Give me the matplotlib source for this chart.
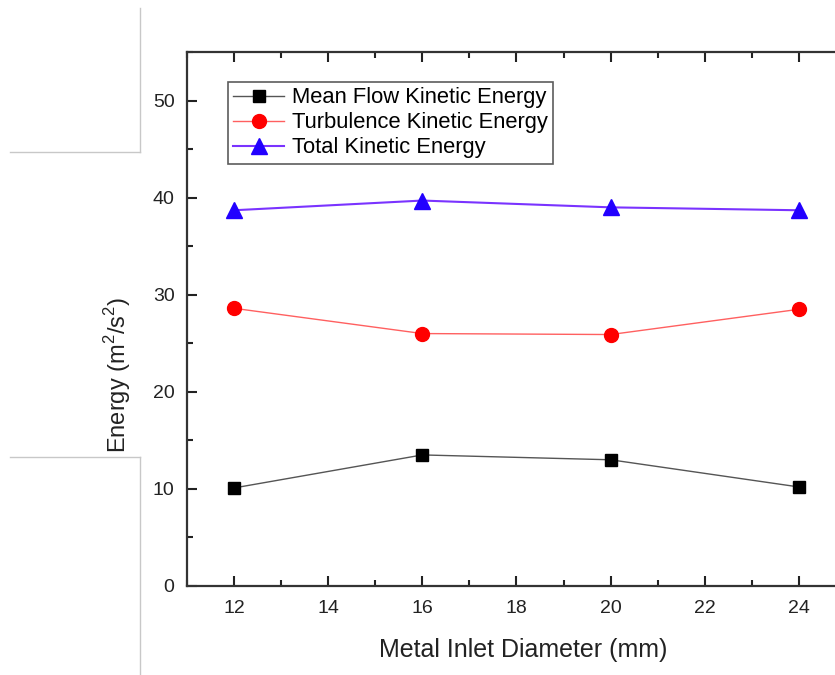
#!/usr/bin/env python3
"""Energy vs metal inlet diameter — line chart with three kinetic-energy series."""
import matplotlib
matplotlib.use("Agg")
import matplotlib.pyplot as plt
from matplotlib.lines import Line2D
from matplotlib.ticker import MultipleLocator

plt.rcParams["font.family"] = ["Liberation Sans", "DejaVu Sans"]
plt.rcParams["mathtext.fontset"] = "custom"
plt.rcParams["mathtext.rm"] = "Liberation Sans"

# data
diameters   = [12, 16, 20, 24]
mean_flow   = [10.1, 13.5, 13.0, 10.2]
turbulence  = [28.6, 26.0, 25.9, 28.5]
total       = [38.7, 39.7, 39.0, 38.7]
x_ticks     = [12, 14, 16, 18, 20, 22, 24]
y_ticks     = [0, 10, 20, 30, 40, 50]

W, H = 835, 675
fig = plt.figure(figsize=(W / 100, H / 100), dpi=100)
# axes box in pixels: left 187, right 846 (cut off by the image edge), top 52, bottom 586
ax = fig.add_axes([187 / W, 1 - 586 / H, (846 - 187) / W, (586 - 52) / H])

ax.plot(diameters, mean_flow, color="#555555", lw=1.0, marker="s", ms=9,
        mfc="black", mec="black", label="Mean Flow Kinetic Energy")
ax.plot(diameters, turbulence, color="#ff6060", lw=1.0, marker="o", ms=10,
        mfc="red", mec="red", label="Turbulence Kinetic Energy")
ax.plot(diameters, total, color="#7a33ff", lw=1.5, marker="^", ms=11,
        mfc="#2200ff", mec="#2200ff", label="Total Kinetic Energy")

ax.set_xlim(11, 25)
ax.set_ylim(0, 55)
ax.set_xticks(x_ticks)
ax.set_yticks(y_ticks)
ax.xaxis.set_minor_locator(MultipleLocator(1))
ax.yaxis.set_minor_locator(MultipleLocator(5))
ax.tick_params(which="both", direction="in", top=True, right=True, width=1.5,
               labelsize=14, colors="#222222")
ax.tick_params(which="major", length=7)
ax.tick_params(which="minor", length=4.5)
ax.tick_params(axis="y", pad=9)
ax.tick_params(axis="x", pad=10)
for sp in ax.spines.values():
    sp.set_linewidth(1.6)
    sp.set_color("#333333")

ax.set_xlabel("Metal Inlet Diameter (mm)", fontsize=18, color="#222222")
ax.set_ylabel(r"Energy (m$^2$/s$^2$)", fontsize=17, color="#222222")
ax.xaxis.set_label_coords(0.51, -0.098)
ax.yaxis.set_label_coords(-0.082, 0.395)

leg = ax.legend(loc="upper left", bbox_to_anchor=((228 - 187) / 659, 1 - (82 - 52) / 534),
                fontsize=15.8, frameon=True, fancybox=False, borderpad=0.25,
                labelspacing=0.18, handlelength=2.3, handletextpad=0.35,
                borderaxespad=0)
leg.get_frame().set_edgecolor("#333333")
leg.get_frame().set_linewidth(1.2)

# grey frame lines left over from the screenshot
grey = "#c8c8c8"
for (x0, y0, x1, y1) in [(140, 8, 140, 152), (10, 152, 140, 152),
                         (10, 457, 140, 457), (140, 457, 140, 675)]:
    fig.add_artist(Line2D([x0 / W, x1 / W], [1 - y0 / H, 1 - y1 / H],
                          transform=fig.transFigure, color=grey, lw=1))

fig.savefig("out.png", dpi=100)
